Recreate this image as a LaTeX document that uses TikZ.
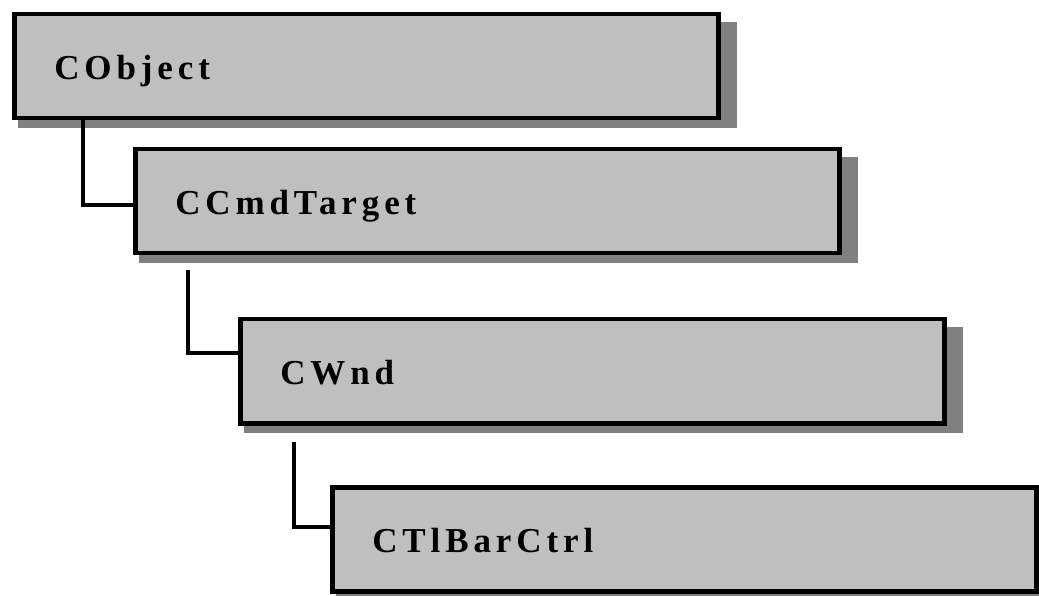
\documentclass[tikz,border=0pt]{standalone}
\usepackage{fontspec}
\newfontfamily\clsfont[LetterSpace=14]{Liberation Serif}
\usepackage{tikz}
\usetikzlibrary{positioning, shadows}

\begin{document}
\begin{tikzpicture}[
    x=1pt, y=1pt,
    cls/.style={draw, line width=4.5pt, fill=black!25, anchor=north west,
                minimum width=704pt, minimum height=104pt,
                text width=624pt, inner xsep=40pt, align=left,
                text height=26pt, text depth=0pt,
                font=\clsfont\bfseries\fontsize{35}{38}\selectfont,
                drop shadow={shadow xshift=11pt, shadow yshift=-9pt,
                             shadow scale=1.02, fill=black!50, opacity=1}},
    link/.style={line width=3.8pt, black},
]
\useasboundingbox (0,0) rectangle (1039,595);

% class boxes, each one step down and to the right
\node[cls] (obj) at (12,583) {CObject};
\node[cls] (cmd) at (133,448) {CCmdTarget};
\node[cls] (wnd) at (238,278) {CWnd};
\node[cls] (tlb) at (330,110) {CTlBarCtrl};

% inheritance links
\draw[link] ([xshift=71pt]obj.south west) |- ([yshift=-58pt]cmd.north west);
\draw[link] ([xshift=55pt, yshift=-15pt]cmd.south west) |- ([yshift=-36pt]wnd.north west);
\draw[link] ([xshift=56pt, yshift=-16pt]wnd.south west) |- ([yshift=-42pt]tlb.north west);

\end{tikzpicture}
\end{document}
